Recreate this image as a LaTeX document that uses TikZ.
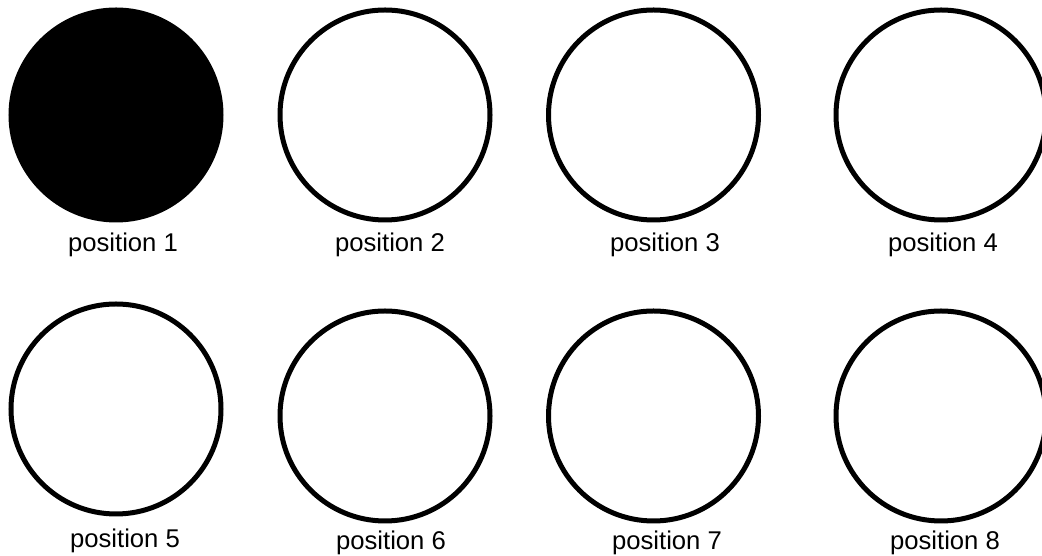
\documentclass[tikz,border=0pt]{standalone}
\usepackage{fontspec}
\setmainfont{Liberation Sans}
\usetikzlibrary{positioning}

\begin{document}
\begin{tikzpicture}[spot/.style={draw,circle,line width=0.1cm,inner sep=0pt,minimum size=4.2cm},lbl/.style={anchor=base,inner sep=0pt,font=\fontsize{14.6}{17}\selectfont}]
\useasboundingbox (0,0) rectangle (20.84,11.12);
% top row
\node[spot,fill=black] (p1) at (2.32,8.82) {};
\node[spot] (p2) at (7.70,8.82) {};
\node[spot] (p3) at (13.07,8.82) {};
\node[spot] (p4) at (18.82,8.82) {};
\node[lbl] (l1) at (2.46,6.08) {position 1};
\node[lbl] (l2) at (7.80,6.08) {position 2};
\node[lbl] (l3) at (13.30,6.08) {position 3};
\node[lbl] (l4) at (18.86,6.08) {position 4};
% bottom row
\node[spot] (p5) at (2.32,2.94) {};
\node[spot] (p6) at (7.70,2.80) {};
\node[spot] (p7) at (13.07,2.80) {};
\node[spot] (p8) at (18.82,2.80) {};
\node[lbl] (l5) at (2.50,0.16) {position 5};
\node[lbl] (l6) at (7.82,0.12) {position 6};
\node[lbl] (l7) at (13.34,0.12) {position 7};
\node[lbl] (l8) at (18.90,0.12) {position 8};
\end{tikzpicture}
\end{document}
